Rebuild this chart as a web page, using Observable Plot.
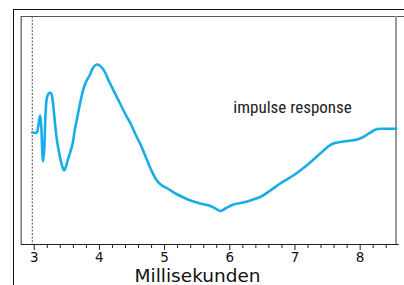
<!DOCTYPE html>
<html>
<head>
<meta charset="utf-8">
<script src="https://cdn.jsdelivr.net/npm/d3@7"></script>
<script src="https://cdn.jsdelivr.net/npm/@observablehq/plot@0.6"></script>
<style>
  html, body { margin: 0; padding: 0; background: #fff; }
  #wrap { position: relative; width: 404px; height: 285px; overflow: hidden; }
  #outer { position: absolute; left: 13px; top: 9px; right: -4px; bottom: -4px;
           border-top: 1.5px solid #111; border-left: 1.5px solid #111; pointer-events: none; }
  #chart { position: absolute; left: 0; top: 0; }
</style>
</head>
<body>
<div id="wrap"><div id="chart"></div><div id="outer"></div></div>
<script>
// Time in milliseconds
const time = [2.969, 3.038, 3.061, 3.089, 3.107, 3.123, 3.135, 3.153, 3.176, 3.199,
  3.230, 3.260, 3.283, 3.314, 3.345, 3.375, 3.406, 3.436, 3.459, 3.482,
  3.513, 3.551, 3.590, 3.620, 3.651, 3.681, 3.712, 3.758, 3.804, 3.850,
  3.896, 3.942, 3.972, 4.003, 4.049, 4.095, 4.141, 4.202, 4.263, 4.325,
  4.401, 4.478, 4.554, 4.631, 4.708, 4.784, 4.861, 4.937, 5.044, 5.167,
  5.289, 5.397, 5.550, 5.703, 5.780, 5.856, 5.933, 6.055, 6.208, 6.315,
  6.468, 6.622, 6.775, 6.974, 7.081, 7.234, 7.388, 7.510, 7.587, 7.740,
  7.955, 8.047, 8.108, 8.185, 8.261, 8.384, 8.553];
// Impulse response amplitude (arbitrary units)
const amplitude = [0, 0, 0.06, 0.17, 0.07, -0.18, -0.29, -0.18, 0.22, 0.36,
  0.395, 0.39, 0.32, 0.12, -0.06, -0.18, -0.28, -0.35, -0.38, -0.35,
  -0.28, -0.20, -0.11, 0.02, 0.12, 0.22, 0.32, 0.44, 0.52, 0.57,
  0.64, 0.675, 0.68, 0.67, 0.64, 0.59, 0.52, 0.44, 0.36, 0.28,
  0.18, 0.09, -0.02, -0.12, -0.24, -0.36, -0.46, -0.52, -0.56, -0.61,
  -0.65, -0.68, -0.71, -0.735, -0.76, -0.785, -0.76, -0.72, -0.70, -0.68,
  -0.645, -0.58, -0.51, -0.43, -0.38, -0.30, -0.21, -0.14, -0.11, -0.09,
  -0.07, -0.045, -0.02, 0.01, 0.035, 0.037, 0.037];
const majorTicks = [3, 4, 5, 6, 7, 8];
const minorTicks = [3.2, 3.4, 3.6, 3.8, 4.2, 4.4, 4.6, 4.8, 5.2, 5.4, 5.6, 5.8,
  6.2, 6.4, 6.6, 6.8, 7.2, 7.4, 7.6, 7.8, 8.2, 8.4];
const xLabel = "Millisekunden";
const annotation = [{t: 6.055, a: 0.248, label: "impulse response"}];
const marker = [2.97];
const xDomain = [2.8, 8.55];
const yDomain = [-1.12, 1.16];

const data = time.map((t, i) => ({t, a: amplitude[i]}));

const chart = Plot.plot({
  width: 404,
  height: 285,
  marginLeft: 20.7,
  marginRight: 8.5,
  marginTop: 16,
  marginBottom: 41,
  style: {background: "transparent", fontFamily: "'DejaVu Sans', sans-serif", overflow: "visible"},
  x: {domain: xDomain},
  y: {domain: yDomain, axis: null},
  marks: [
    Plot.ruleX([xDomain[0]], {stroke: "#555", strokeWidth: 1.2}),
    Plot.ruleY([yDomain[1]], {x1: xDomain[0], x2: 8.7, stroke: "#555", strokeWidth: 1.2}),
    Plot.ruleX([xDomain[1]], {stroke: "#999", strokeWidth: 2}),
    Plot.ruleX(marker, {stroke: "#555", strokeWidth: 1, strokeDasharray: "2,1.5"}),
    Plot.ruleY([yDomain[0]], {x1: xDomain[0], x2: 8.6, stroke: "#222", strokeWidth: 1.2}),
    Plot.axisX({ticks: minorTicks, tickSize: 4, text: null, label: null, stroke: "#222"}),
    Plot.axisX({ticks: majorTicks, tickSize: 6, tickPadding: 2, fontSize: 13.5, label: null,
      stroke: "#222", fill: "#111", tickFormat: d => String(d)}),
    Plot.text([xLabel], {frameAnchor: "bottom", lineAnchor: "bottom", dy: 37, dx: -11, fontSize: 18.5,
      fill: "#111"}),
    Plot.line(data, {x: "t", y: "a", stroke: "#19ade6", strokeWidth: 2.6,
      strokeLinejoin: "round", strokeLinecap: "round", curve: "catmull-rom"}),
    Plot.text(annotation, {x: "t", y: "a", text: "label", textAnchor: "start", fontSize: 17,
      fill: "#222", fontFamily: "'Liberation Sans Narrow', 'Roboto Condensed', sans-serif"})
  ]
});
document.getElementById("chart").appendChild(chart);
</script>
</body>
</html>
